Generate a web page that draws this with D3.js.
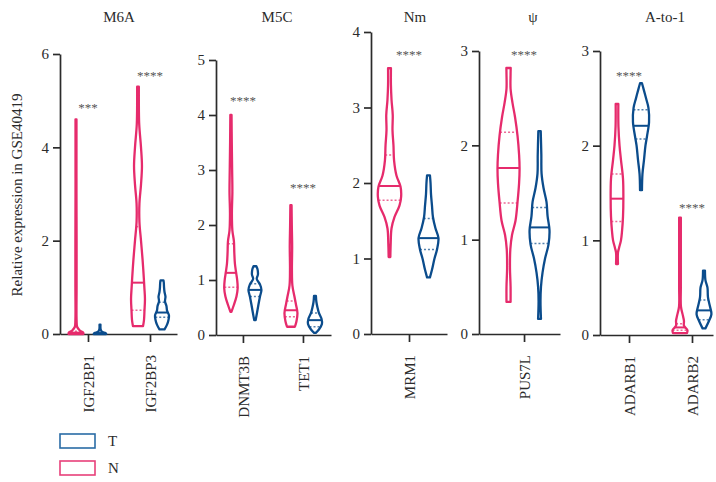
<!DOCTYPE html>
<html>
<head>
<meta charset="utf-8">
<script src="https://cdn.jsdelivr.net/npm/d3@7"></script>
<style>
    body { margin: 0; background: #fff; }
    svg text { font-family: "Liberation Serif", "DejaVu Serif", serif; }
</style>
</head>
<body>
<svg id="chart" width="716" height="482"></svg>
<script>
// Violin plots of RNA modification regulators, tumour (T) vs normal (N)

const panelTitles = ['M6A', 'M5C', 'Nm', 'ψ', 'A-to-1'];
const panelGenes = [['IGF2BP1', 'IGF2BP3'], ['DNMT3B', 'TET1'], ['MRM1'], ['PUS7L'], ['ADARB1', 'ADARB2']];
const panelYMax = [6, 5, 4, 3, 3];
const panelTickStep = [2, 1, 1, 1, 1];
const groups = ['N', 'T'];
const legendLabels = ['T', 'N'];

// density profiles: [expression, density]
const violinN = {
    IGF2BP1: [[0, 0.62], [0.03, 0.6], [0.08, 0.3], [0.15, 0.1], [0.3, 0.05], [1, 0.05], [2, 0.05], [3, 0.04], [4, 0.04], [4.6, 0.04]],
    IGF2BP3: [[0.17, 0.42], [0.3, 0.5], [0.5, 0.54], [0.75, 0.58], [1.0, 0.53], [1.3, 0.46], [1.6, 0.38], [2.0, 0.25], [2.4, 0.12], [2.8, 0.12], [3.2, 0.25], [3.6, 0.33], [4.0, 0.25], [4.5, 0.1], [5.0, 0.07], [5.3, 0.07]],
    DNMT3B: [[0.42, 0.04], [0.55, 0.25], [0.7, 0.46], [0.85, 0.56], [1.0, 0.52], [1.15, 0.42], [1.3, 0.33], [1.5, 0.28], [1.7, 0.25], [1.9, 0.12], [2.2, 0.08], [2.6, 0.12], [3.0, 0.1], [3.5, 0.07], [4.0, 0.05]],
    TET1: [[0.15, 0.33], [0.25, 0.46], [0.4, 0.54], [0.55, 0.42], [0.7, 0.29], [0.9, 0.12], [1.2, 0.08], [1.6, 0.1], [2.0, 0.07], [2.36, 0.05]],
    MRM1: [[1.02, 0.07], [1.2, 0.1], [1.4, 0.17], [1.55, 0.42], [1.7, 0.83], [1.82, 0.97], [1.95, 0.92], [2.1, 0.58], [2.3, 0.38], [2.5, 0.33], [2.7, 0.25], [2.9, 0.27], [3.1, 0.17], [3.3, 0.12], [3.52, 0.12]],
    PUS7L: [[0.34, 0.17], [0.5, 0.17], [0.7, 0.12], [0.9, 0.15], [1.05, 0.29], [1.2, 0.58], [1.4, 0.75], [1.6, 0.88], [1.75, 0.92], [1.9, 0.88], [2.1, 0.75], [2.3, 0.54], [2.45, 0.33], [2.6, 0.17], [2.75, 0.17], [2.82, 0.18]],
    ADARB1: [[0.75, 0.08], [0.87, 0.08], [0.92, 0.17], [1.0, 0.33], [1.1, 0.42], [1.25, 0.5], [1.45, 0.53], [1.65, 0.5], [1.85, 0.33], [2.0, 0.21], [2.2, 0.12], [2.44, 0.11]],
    ADARB2: [[0.02, 0.58], [0.05, 0.62], [0.1, 0.33], [0.15, 0.33], [0.2, 0.25], [0.3, 0.08], [0.5, 0.07], [0.9, 0.07], [1.24, 0.07]]
};
const violinT = {
    IGF2BP1: [[0, 0.52], [0.02, 0.45], [0.05, 0.15], [0.1, 0.05], [0.2, 0.04]],
    IGF2BP3: [[0.1, 0.21], [0.2, 0.42], [0.3, 0.54], [0.4, 0.58], [0.5, 0.42], [0.6, 0.37], [0.7, 0.25], [0.8, 0.29], [0.9, 0.21], [1.0, 0.17], [1.1, 0.15], [1.15, 0.12]],
    DNMT3B: [[0.27, 0.06], [0.4, 0.17], [0.55, 0.29], [0.7, 0.42], [0.82, 0.54], [0.92, 0.42], [1.02, 0.15], [1.1, 0.25], [1.2, 0.21], [1.25, 0.12]],
    TET1: [[0.04, 0.07], [0.1, 0.33], [0.2, 0.58], [0.3, 0.54], [0.4, 0.33], [0.5, 0.21], [0.6, 0.12], [0.71, 0.08]],
    MRM1: [[0.75, 0.12], [0.85, 0.29], [1.0, 0.5], [1.12, 0.71], [1.27, 0.83], [1.4, 0.58], [1.55, 0.37], [1.7, 0.29], [1.85, 0.21], [2.0, 0.17], [2.1, 0.12]],
    PUS7L: [[0.16, 0.12], [0.35, 0.08], [0.5, 0.12], [0.65, 0.25], [0.8, 0.46], [0.95, 0.75], [1.1, 0.83], [1.25, 0.67], [1.4, 0.58], [1.55, 0.33], [1.7, 0.17], [1.9, 0.15], [2.15, 0.1]],
    ADARB1: [[1.53, 0.08], [1.7, 0.12], [1.85, 0.25], [2.0, 0.37], [2.1, 0.5], [2.25, 0.67], [2.4, 0.62], [2.5, 0.42], [2.6, 0.21], [2.66, 0.08]],
    ADARB2: [[0.07, 0.12], [0.15, 0.42], [0.22, 0.62], [0.3, 0.5], [0.4, 0.33], [0.5, 0.29], [0.58, 0.12], [0.68, 0.08]]
};

// [lower quartile, median, upper quartile]
const statsN = {
    IGF2BP1: [0.01, 0.03, 0.06], IGF2BP3: [0.51, 1.1, 2.3], DNMT3B: [0.87, 1.13, 1.66], TET1: [0.33, 0.45, 0.62],
    MRM1: [1.77, 1.96, 2.37], PUS7L: [1.39, 1.76, 2.14], ADARB1: [1.2, 1.44, 1.7], ADARB2: [0.05, 0.08, 0.12]
};
const statsT = {
    IGF2BP1: [0.01, 0.02, 0.04], IGF2BP3: [0.36, 0.46, 0.68], DNMT3B: [0.7, 0.82, 0.93], TET1: [0.15, 0.27, 0.4],
    MRM1: [1.12, 1.27, 1.53], PUS7L: [0.96, 1.13, 1.34], ADARB1: [2.07, 2.21, 2.38], ADARB2: [0.16, 0.26, 0.37]
};

// significance marks and the height they sit at
const starText = { IGF2BP1: '***', IGF2BP3: '****', DNMT3B: '****', TET1: '****', MRM1: '****', PUS7L: '****', ADARB1: '****', ADARB2: '****' };
const starHeight = { IGF2BP1: 4.91, IGF2BP3: 5.59, DNMT3B: 4.31, TET1: 2.73, MRM1: 3.73, PUS7L: 2.99, ADARB1: 2.77, ADARB2: 1.37 };

// layout of each panel on the page
const panelLayout = [
    { x0: 60, x1: 177, top: 54, bottom: 334, pad: 0.4435, align: 0.509, off: 12, titleX: 119 },
    { x0: 216, x1: 331, top: 60, bottom: 335, pad: 0.458, align: 0.49, off: 12, titleX: 277 },
    { x0: 371, x1: 447, top: 32, bottom: 334, pad: 0.5, align: 0.5, off: 19.5, titleX: 415 },
    { x0: 479, x1: 560, top: 51, bottom: 334, pad: 0.5, align: 0.556, off: 15.5, titleX: 533 },
    { x0: 600, x1: 713, top: 51, bottom: 335, pad: 0.397, align: 0.58, off: 12, titleX: 665 }
];

const colors = { N: '#e62b6c', T: '#0b4c8c' };
const legendColors = { T: '#2a6ca6', N: '#e8407a' };
const axisColor = '#2b2b2b';
const textColor = '#2b2b2b';

const svg = d3.select('#chart');
const widthScale = d3.scaleLinear().domain([0, 1]).range([0, 12]);

// linear interpolation of the violin half-width at a value
function densityAt(profile, v) {
    const i = d3.bisector(d => d[0]).left(profile, v);
    if (i <= 0) return profile[0][1];
    if (i >= profile.length) return profile[profile.length - 1][1];
    const a = profile[i - 1], b = profile[i];
    const t = (v - a[0]) / (b[0] - a[0]);
    return a[1] + t * (b[1] - a[1]);
}

panelTitles.forEach((title, p) => {
    const L = panelLayout[p];
    const genes = panelGenes[p];
    const g = svg.append('g');

    const y = d3.scaleLinear().domain([0, panelYMax[p]]).range([L.bottom, L.top]);
    const x = d3.scalePoint().domain(genes).range([L.x0, L.x1]).padding(L.pad).align(L.align);
    const inner = d3.scalePoint().domain(groups).range([-L.off, L.off]);

    // y axis
    const yAxis = g.append('g')
        .attr('transform', `translate(${L.x0},0)`)
        .call(d3.axisLeft(y)
            .tickValues(d3.range(0, panelYMax[p] + 0.01, panelTickStep[p]))
            .tickFormat(d3.format('d'))
            .tickSize(7).tickSizeOuter(0).tickPadding(4));

    // x axis
    const xAxis = g.append('g')
        .attr('transform', `translate(0,${L.bottom})`)
        .call(d3.axisBottom(x).tickSize(8).tickSizeOuter(0));
    xAxis.selectAll('text')
        .attr('transform', 'rotate(-90)')
        .attr('text-anchor', 'end')
        .attr('x', -21)
        .attr('y', 0)
        .attr('dy', '0.35em')
        .style('font-size', '15px');

    [yAxis, xAxis].forEach(ax => {
        ax.selectAll('path, line').attr('stroke', axisColor).attr('stroke-width', 1.7);
        ax.selectAll('text').attr('fill', textColor).style('font-family', '"Liberation Serif", serif');
    });
    yAxis.selectAll('text').style('font-size', '15px');

    // panel title
    g.append('text')
        .attr('x', L.titleX)
        .attr('y', 22)
        .attr('text-anchor', 'middle')
        .attr('fill', textColor)
        .style('font-size', '15px')
        .text(title);

    genes.forEach(gene => {
        groups.forEach(grp => {
            const profile = (grp === 'N' ? violinN : violinT)[gene];
            const stats = (grp === 'N' ? statsN : statsT)[gene];
            const cx = x(gene) + inner(grp);
            const color = colors[grp];

            const area = d3.area()
                .curve(d3.curveCatmullRom)
                .y(d => y(d[0]))
                .x0(d => cx - widthScale(d[1]))
                .x1(d => cx + widthScale(d[1]));

            g.append('path')
                .datum(profile)
                .attr('d', area)
                .attr('fill', 'none')
                .attr('stroke', color)
                .attr('stroke-width', 2.3)
                .attr('stroke-linejoin', 'round');

            // quartiles dotted, median solid
            stats.forEach((v, k) => {
                const hw = widthScale(densityAt(profile, v));
                g.append('line')
                    .attr('x1', cx - hw)
                    .attr('x2', cx + hw)
                    .attr('y1', y(v))
                    .attr('y2', y(v))
                    .attr('stroke', color)
                    .attr('stroke-width', k === 1 ? 2 : 1.5)
                    .attr('stroke-dasharray', k === 1 ? null : '2,2')
                    .attr('opacity', k === 1 ? 1 : 0.7);
            });
        });

        // significance stars
        g.append('text')
            .attr('x', x(gene))
            .attr('y', y(starHeight[gene]) + 7)
            .attr('text-anchor', 'middle')
            .attr('fill', '#555')
            .style('font-size', '13px')
            .text(starText[gene]);
    });
});

// y axis title
svg.append('text')
    .attr('transform', 'translate(22,195) rotate(-90)')
    .attr('text-anchor', 'middle')
    .attr('fill', textColor)
    .style('font-size', '15px')
    .text('Relative expression in GSE40419');

// legend
const legend = svg.append('g');
legendLabels.forEach((lab, i) => {
    legend.append('rect')
        .attr('x', 60)
        .attr('y', 434 + i * 27)
        .attr('width', 35)
        .attr('height', 14)
        .attr('fill', 'none')
        .attr('stroke', legendColors[lab])
        .attr('stroke-width', 1.6);
    legend.append('text')
        .attr('x', 108)
        .attr('y', 446 + i * 27)
        .attr('fill', textColor)
        .style('font-size', '15px')
        .text(lab);
});
</script>
</body>
</html>
